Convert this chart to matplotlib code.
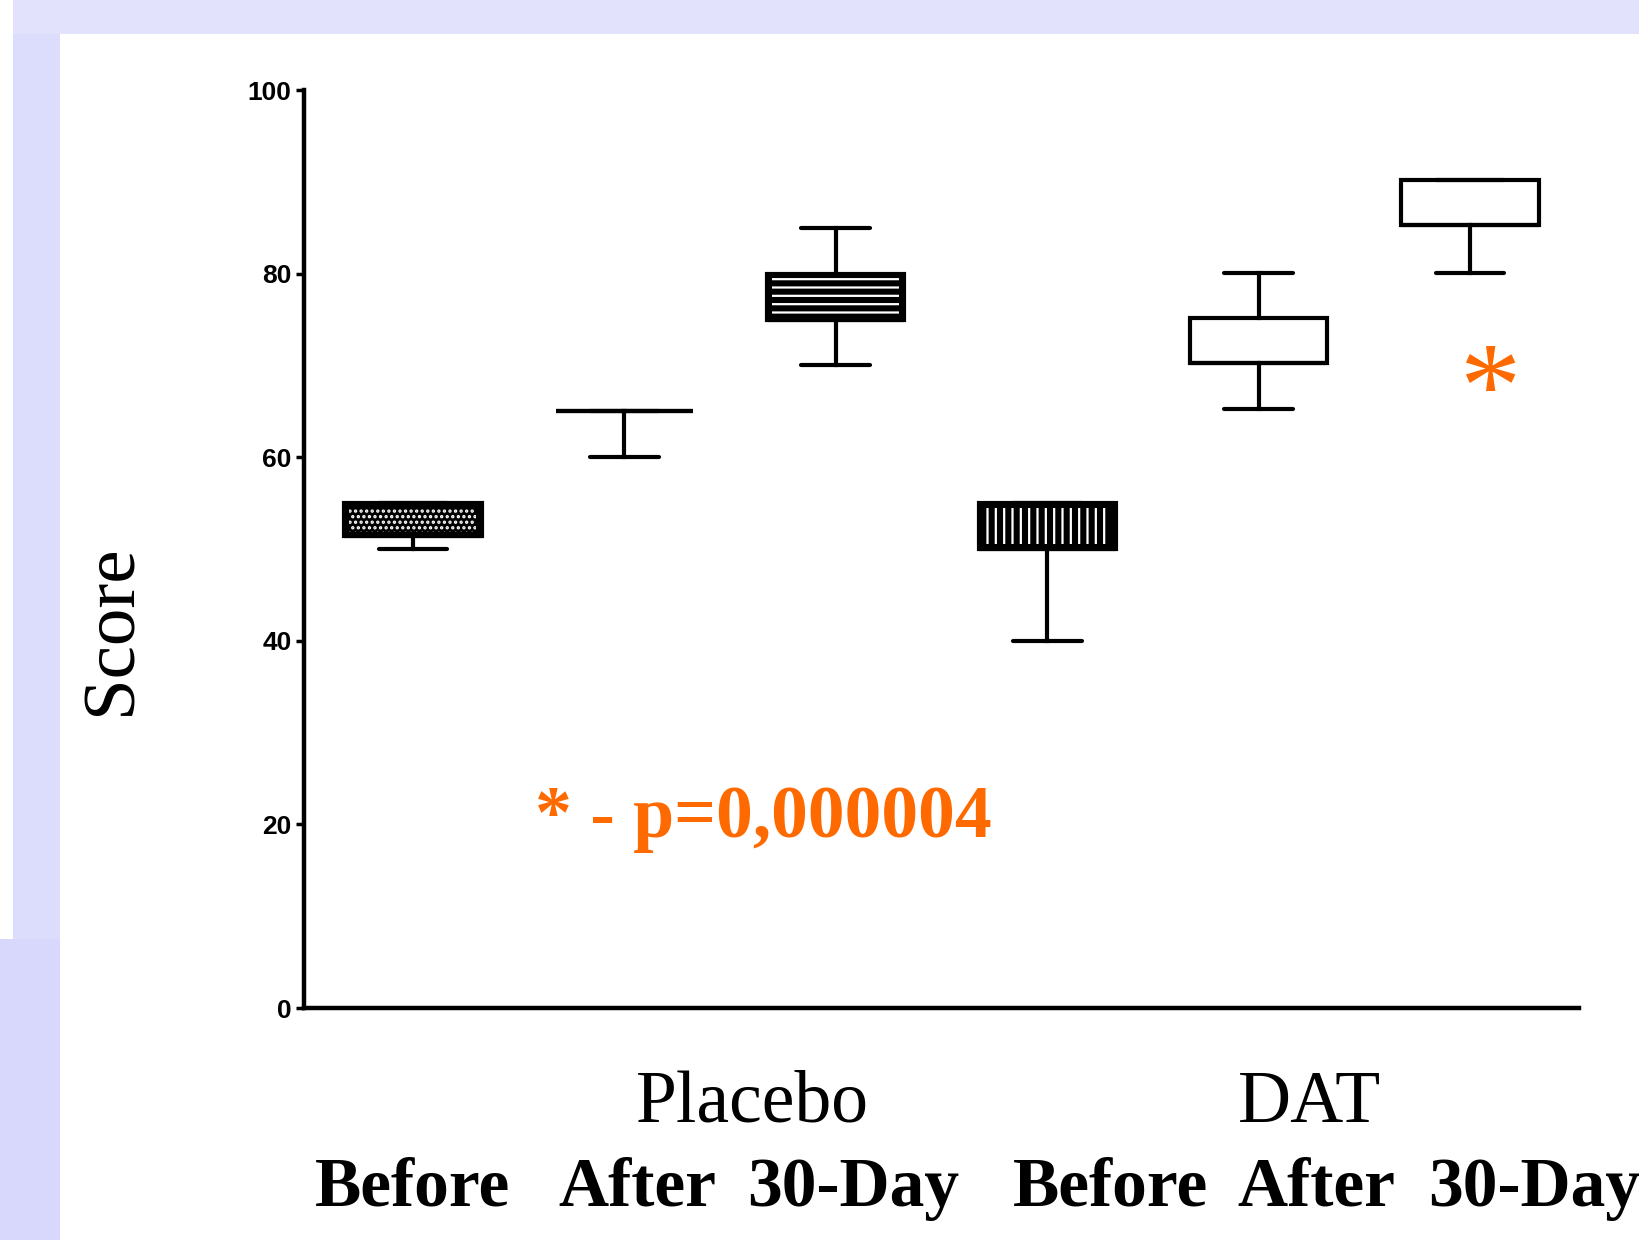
import matplotlib
matplotlib.use("Agg")
import matplotlib.pyplot as plt
from matplotlib.patches import Rectangle

# ---------------- data ----------------
groups = ["Placebo", "DAT"]
conditions = ["Before", "After", "30-Day"]
positions = [1, 2, 3, 4, 5, 6]
q1 = [51.4, 65, 75, 50, 70.3, 85.3]
q3 = [55, 65, 80, 55, 75.2, 90.2]
med = [51.4, 65, 75, 50, 70.3, 85.3]
whislo = [50, 60, 70, 40, 65.2, 80.1]
whishi = [55, 65, 85, 55, 80.1, 90.2]
hatches = ["...", None, "--", "||", None, None]
yticks = [0, 20, 40, 60, 80, 100]
pvalue_text = "* - p=0,000004"
ylabel = "Score"

W, H = 1640, 1240
ORANGE = "#FF6A00"

fig = plt.figure(figsize=(W / 100, H / 100), dpi=100)
fig.patch.set_facecolor("white")


def fx(px):
    return px / W


def fy(py):
    return 1 - py / H


# lavender frame
for (x0, y0, x1, y1, c) in [
    (13, 0, W, 34, "#E2E2FD"),
    (13, 34, 60, 939, "#DCDCFC"),
    (0, 939, 60, H, "#D8D8FC"),
]:
    fig.patches.append(Rectangle((fx(x0), fy(y1)), fx(x1) - fx(x0), fy(y0) - fy(y1),
                                 transform=fig.transFigure, facecolor=c,
                                 edgecolor="none", zorder=0))

ax = fig.add_axes([fx(304), fy(1008), fx(1579) - fx(304), fy(90) - fy(1008)])
ax.set_facecolor("none")
ax.set_xlim(0.485, 6.515)
ax.set_ylim(0, 100)

stats = [dict(med=m, q1=a, q3=b, whislo=lo, whishi=hi)
         for m, a, b, lo, hi in zip(med, q1, q3, whislo, whishi)]
lw = 3.0
bp = ax.bxp(stats, positions=positions, widths=0.65, patch_artist=True,
            showfliers=False, manage_ticks=False,
            boxprops=dict(linewidth=lw, edgecolor="black", facecolor="white"),
            whiskerprops=dict(linewidth=lw, color="black"),
            capprops=dict(linewidth=lw, color="black", solid_capstyle="round"),
            medianprops=dict(linewidth=lw, color="black"))

plt.rcParams["hatch.linewidth"] = 1.6
for i, h in enumerate(hatches):
    if h is None:
        continue
    bp["boxes"][i].set_facecolor("black")
    ax.bar(positions[i], (q3[i] - q1[i]) - 1.0, bottom=q1[i] + 0.5, width=0.6,
           color="none", edgecolor="white", linewidth=0, hatch=h, zorder=3)

for s in ["top", "right"]:
    ax.spines[s].set_visible(False)
for s in ["left", "bottom"]:
    ax.spines[s].set_linewidth(3.2)
ax.set_xticks([])
ax.set_yticks(yticks)
ax.set_yticklabels([str(t) for t in yticks])
ax.tick_params(axis="y", direction="out", length=6, width=2.5, pad=3,
               labelsize=19)
for lab in ax.get_yticklabels():
    lab.set_fontfamily("Liberation Sans")
    lab.set_fontweight("bold")

# annotations
fig.text(fx(535), fy(837), pvalue_text, color=ORANGE, fontsize=53,
         fontweight="bold", family="Liberation Serif", va="baseline", ha="left")
ax.text(6.09, 66.6, "*", color=ORANGE, fontsize=88, fontweight="normal",
        family="Liberation Serif", ha="center", va="center")

fig.text(fx(113), fy(630), ylabel, rotation=90, fontsize=54,
         family="Liberation Serif", ha="center", va="center")

group_x = [752, 1310]
for g, x in zip(groups, group_x):
    fig.text(fx(x), fy(1122), g, fontsize=53, family="Liberation Serif",
             ha="center", va="baseline")

label_left = [315, 558, 747, 1013, 1237, 1428]
labels = conditions + conditions
for lab, x in zip(labels, label_left):
    fig.text(fx(x), fy(1206), lab, fontsize=50, fontweight="bold",
             family="Liberation Serif", ha="left", va="baseline")

fig.savefig("out.png", dpi=100)
